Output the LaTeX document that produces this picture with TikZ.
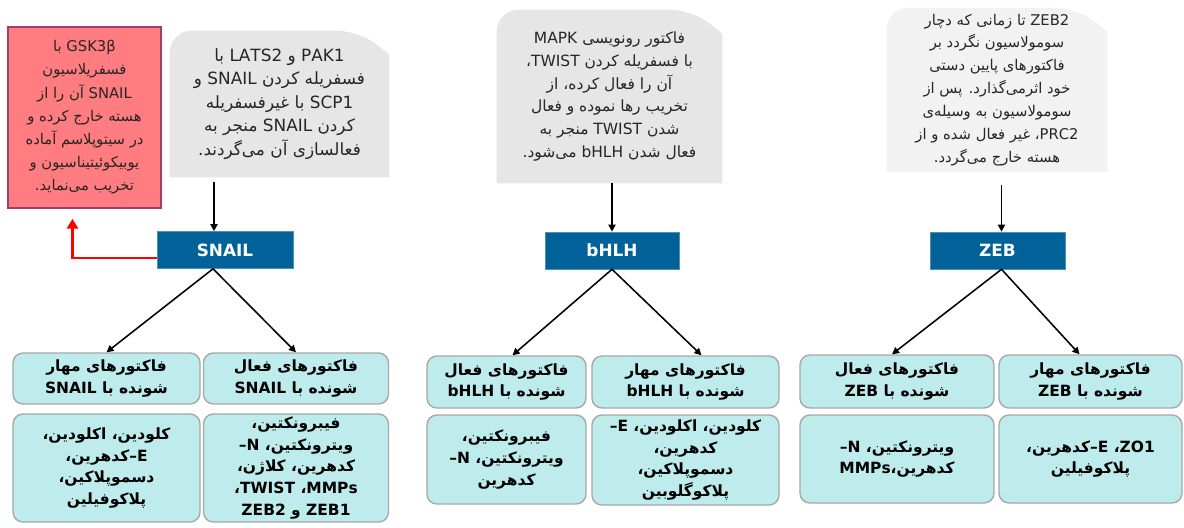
\documentclass[tikz,border=0pt]{standalone}
\usepackage{fontspec}
\setmainfont{DejaVu Sans}
\newfontfamily\persian[Script=Arabic]{DejaVu Sans}
\TeXXeTstate=1
\newcommand\fa[1]{\beginR #1\endR}
\newcommand\wsep{\kern0pt}
\usetikzlibrary{arrows.meta,backgrounds}
\definecolor{notegray}{RGB}{230,230,230}
\definecolor{notelight}{RGB}{242,242,242}
\definecolor{gskred}{RGB}{255,124,128}
\definecolor{gskborder}{RGB}{160,62,110}
\definecolor{tfblue}{RGB}{0,98,152}
\definecolor{listcyan}{RGB}{190,236,236}
\definecolor{listborder}{RGB}{168,168,168}
\begin{document}
\begin{tikzpicture}[x=0.025cm, y=-0.025cm,
    notetext/.style={align=center, inner sep=0pt, text=black!85, font=\persian\fontsize{10.5}{16.5}\selectfont},
    tfbox/.style={fill=tfblue, draw=tfblue!70!white, text=white, minimum height=0.925cm, font=\bfseries\fontsize{12}{14}\selectfont},
    factor/.style={fill=listcyan, draw=listborder, line width=1pt, rounded corners=0.25cm, align=center, inner sep=0pt, font=\persian\bfseries\fontsize{11}{15.5}\selectfont},
    arr/.style={-{Triangle[length=5pt,width=5pt]}, line width=1.1pt},
    downarr/.style={arr, line width=1.4pt},
    redarr/.style={-{Triangle[length=7pt,width=8pt]}, red, line width=2pt}]
    \useasboundingbox (0,0) rectangle (1184,527);

    \node[notetext, fill=gskred, draw=gskborder, line width=1.2pt, minimum width=3.825cm, minimum height=4.525cm] (gsk) at (84.5,117.5)
        {\fa{GSK3β با}\\ \fa{فسفریلاسیون}\\ \fa{SNAIL آن را از}\\ \fa{هسته خارج کرده و}\\
         \fa{در سیتوپلاسم آماده}\\ \fa{یوبیکوئیتیناسیون و}\\ \fa{تخریب می^^^^200cنماید.}};
    \node[notetext, font=\persian\fontsize{12}{16.8}\selectfont, minimum width=5.475cm, minimum height=3.65cm] (snailnote) at (279.5,104)
        {\fa{PAK1 و LATS2 با}\\ \fa{فسفریله کردن SNAIL و}\\ \fa{SCP1 با غیرفسفریله}\\
         \fa{کردن SNAIL منجر به}\\ \fa{فعالسازی آن می^^^^200cگردند.}};
    \node[notetext, font=\persian\fontsize{11}{16.2}\selectfont, minimum width=5.625cm, minimum height=4.325cm] (bhlhnote) at (609.5,96.5)
        {\fa{فاکتور رونویسی MAPK}\\ \fa{با فسفریله کردن TWIST\wsep،}\\ \fa{آن را فعال کرده، از}\\
         \fa{تخریب رها نموده و فعال}\\ \fa{شدن TWIST منجر به}\\ \fa{فعال شدن bHLH می^^^^200cشود.}};
    \node[notetext, font=\persian\fontsize{10.5}{16.3}\selectfont, minimum width=5.5cm, minimum height=4.1cm] (zebnote) at (997,90)
        {\fa{ZEB2 تا زمانی که دچار}\\ \fa{سومولاسیون نگردد بر}\\ \fa{فاکتورهای پایین دستی}\\
         \fa{خود اثرمی^^^^200cگذارد. پس از}\\ \fa{سومولاسیون به وسیله^^^^200cی}\\
         \fa{PRC2\wsep، غیر فعال شده و از}\\ \fa{هسته خارج می^^^^200cگردد.}};

    \node[tfbox, minimum width=3.4cm] (snail) at (225,250) {SNAIL};
    \node[tfbox, minimum width=3.35cm] (bhlh) at (612,250.5) {bHLH};
    \node[tfbox, minimum width=3.375cm] (zeb) at (997.5,250.5) {ZEB};

    \node[factor, minimum width=4.675cm, minimum height=1.275cm] (snailinh) at (106.5,378.5) {\fa{فاکتورهای مهار}\\ \fa{شونده با SNAIL}};
    \node[factor, minimum width=4.625cm, minimum height=1.275cm] (snailact) at (296,378.5) {\fa{فاکتورهای فعال}\\ \fa{شونده با SNAIL}};
    \node[factor, minimum width=4.675cm, minimum height=2.7cm] (snailinhlist) at (106.5,468)
        {\fa{کلودین، اکلودین،}\\ \fa{E\wsep–\wsep کدهرین،}\\ \fa{دسموپلاکین،}\\ \fa{پلاکوفیلین}};
    \node[factor, minimum width=4.625cm, minimum height=2.7cm] (snailactlist) at (296,468)
        {\fa{فیبرونکتین،}\\ \fa{ویترونکتین، N\wsep–}\\ \fa{کدهرین، کلاژن،}\\ \fa{MMPs\wsep، TWIST\wsep،}\\ \fa{ZEB1 و ZEB2}};

    \node[factor, minimum width=3.975cm, minimum height=1.3cm] (bhlhact) at (506.5,382) {\fa{فاکتورهای فعال}\\ \fa{شونده با bHLH}};
    \node[factor, minimum width=4.675cm, minimum height=1.3cm] (bhlhinh) at (685.5,382) {\fa{فاکتورهای مهار}\\ \fa{شونده با bHLH}};
    \node[factor, minimum width=3.975cm, minimum height=2.225cm] (bhlhactlist) at (506.5,459.5)
        {\fa{فیبرونکتین،}\\ \fa{ویترونکتین، N\wsep–}\\ \fa{کدهرین}};
    \node[factor, minimum width=4.675cm, minimum height=2.25cm] (bhlhinhlist) at (685.5,460)
        {\fa{کلودین، اکلودین، E\wsep–}\\ \fa{کدهرین،}\\ \fa{دسموپلاکین،}\\ \fa{پلاکوگلوبین}};

    \node[factor, minimum width=4.85cm, minimum height=1.325cm] (zebact) at (897,381.5) {\fa{فاکتورهای فعال}\\ \fa{شونده با ZEB}};
    \node[factor, minimum width=4.575cm, minimum height=1.325cm] (zebinh) at (1090.5,381.5) {\fa{فاکتورهای مهار}\\ \fa{شونده با ZEB}};
    \node[factor, minimum width=4.85cm, minimum height=2.2cm] (zebactlist) at (897,459)
        {\fa{ویترونکتین، N\wsep–}\\ \fa{کدهرین،\wsep MMPs}};
    \node[factor, minimum width=4.575cm, minimum height=2.2cm] (zebinhlist) at (1090.5,459)
        {\fa{ZO1\wsep، E\wsep–\wsep کدهرین،}\\ \fa{پلاکوفیلین}};

    \begin{scope}[on background layer]
        \foreach \n/\c in {snailnote/notegray, bhlhnote/notegray, zebnote/notelight}
            \fill[\c] (\n.south west) [rounded corners=0.55cm] |- ([xshift=-0.75cm]\n.north east)
                [sharp corners] -- ([yshift=-0.6cm]\n.north east) -- (\n.south east) -- cycle;
    \end{scope}

    \draw[downarr, shorten <=0.125cm] ([xshift=-0.275cm]snail.north |- snailnote.south) -- ([xshift=-0.275cm]snail.north);
    \draw[downarr] (bhlhnote.south -| bhlh.north) -- (bhlh.north);
    \draw[downarr, shorten <=0.325cm] ([xshift=0.1cm]zeb.north |- zebnote.south) -- ([xshift=0.1cm]zeb.north);

    \draw[arr] ([xshift=-0.3cm]snail.south) -- (snailinh.north);
    \draw[arr] ([xshift=-0.3cm]snail.south) -- (snailact.north);
    \draw[arr] (bhlh.south) -- ([xshift=0.15cm]bhlhact.north);
    \draw[arr] (bhlh.south) -- ([xshift=0.4cm]bhlhinh.north);
    \draw[arr] ([xshift=0.1cm]zeb.south) -- ([xshift=-0.125cm]zebact.north);
    \draw[arr] ([xshift=0.1cm]zeb.south) -- ([xshift=-0.275cm]zebinh.north);

    \draw[redarr] ([yshift=-0.2cm]snail.west) -| ([xshift=-0.3cm,yshift=-0.25cm]gsk.south);
\end{tikzpicture}
\end{document}
